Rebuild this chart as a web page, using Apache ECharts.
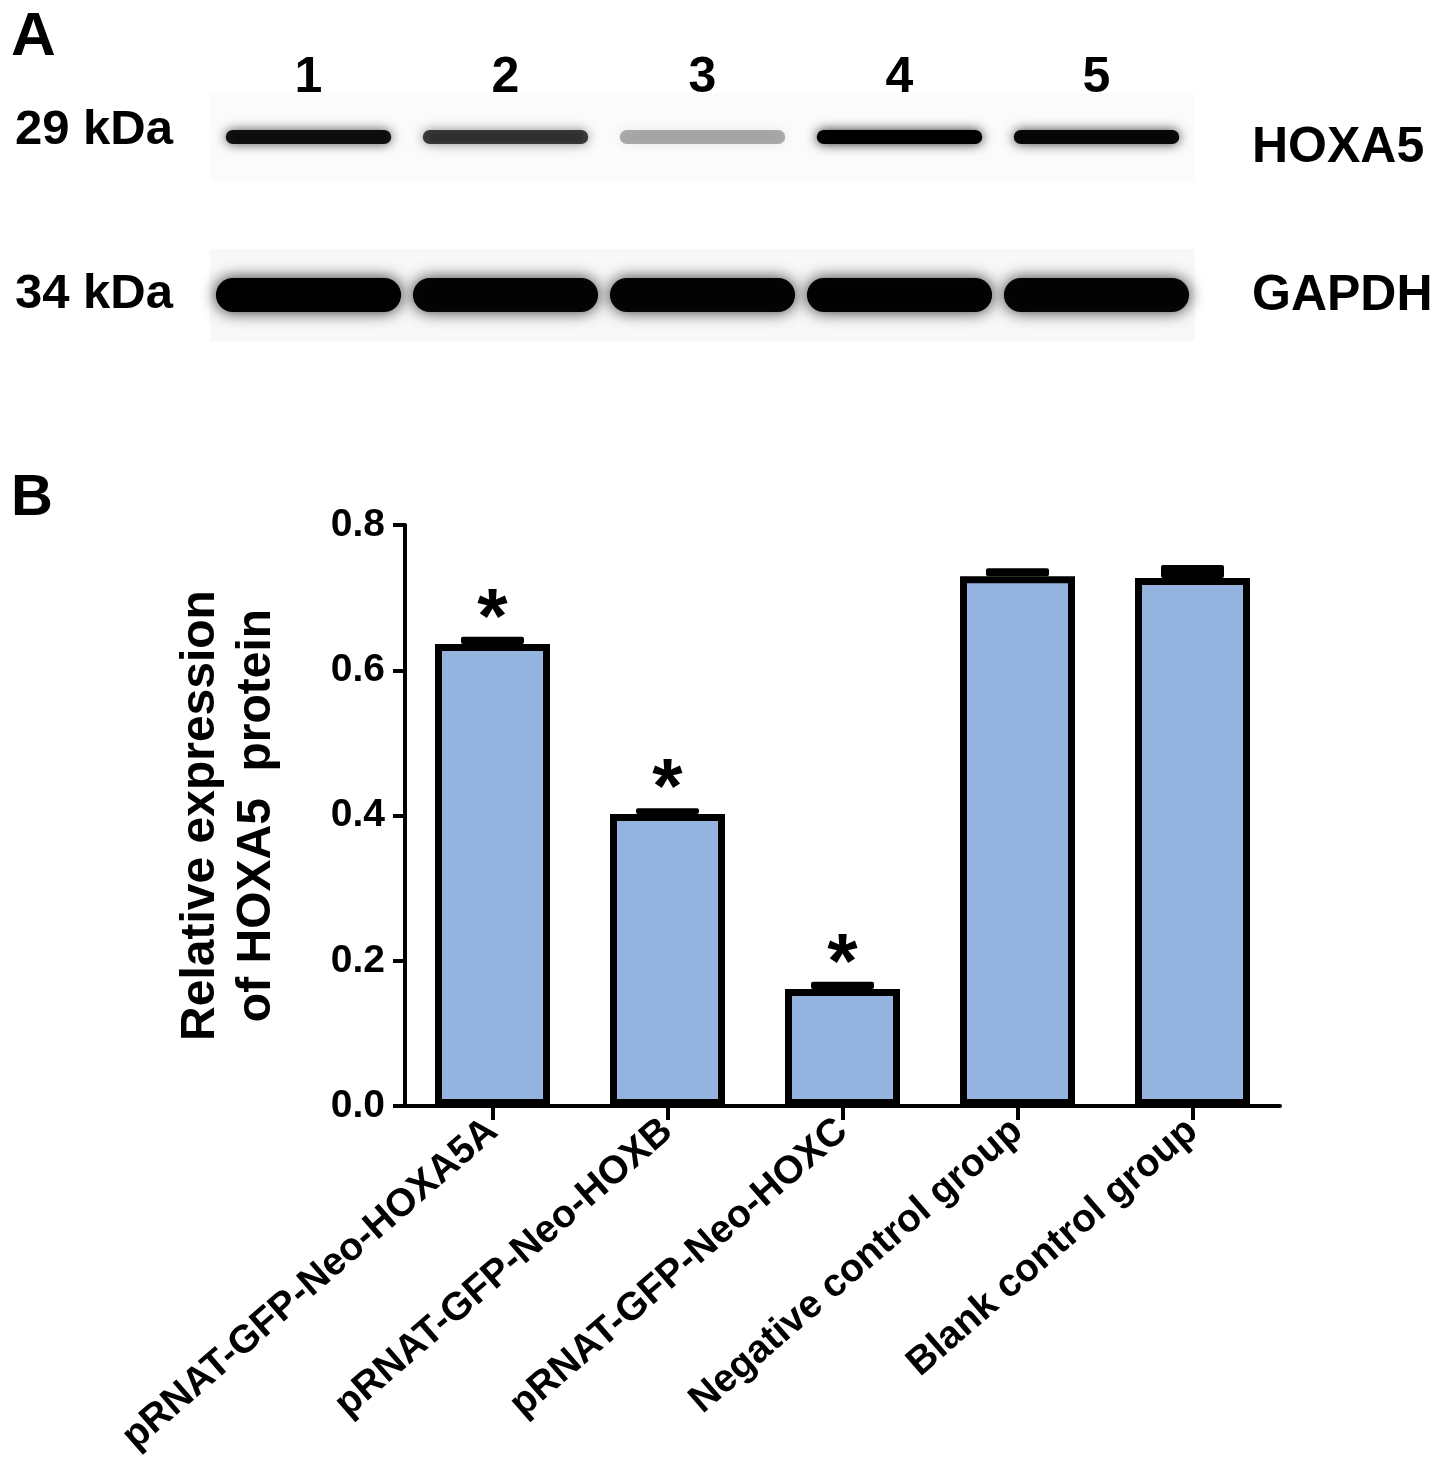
<!DOCTYPE html>
<html><head><meta charset="utf-8">
<script src="https://cdn.jsdelivr.net/npm/echarts@6/dist/echarts.min.js"></script>
<style>html,body{margin:0;padding:0;background:#fff}#c{width:1441px;height:1481px}</style>
</head><body><div id="c"></div>
<script>
// ---- Panel A (western blot) ----
const laneLabels = ['1', '2', '3', '4', '5'];
const blotRows = ['HOXA5', 'GAPDH'];
const blotMarkers = ['29 kDa', '34 kDa'];
const hoxa5Intensity = [0.9, 0.72, 0.3, 1.0, 0.95];
const gapdhIntensity = [1.0, 0.97, 0.97, 0.98, 0.97];

// ---- Panel B (bar chart) ----
const groups = ['pRNAT-GFP-Neo-HOXA5A', 'pRNAT-GFP-Neo-HOXB', 'pRNAT-GFP-Neo-HOXC', 'Negative control group', 'Blank control group'];
const meanValues = [0.636, 0.402, 0.161, 0.7295, 0.727];
const errValues = [0.010, 0.008, 0.010, 0.011, 0.018];
const sigMarks = ['*', '*', '*', '', ''];
const yAxisTitle = 'Relative expression\nof HOXA5  protein';

const FONT = '"Liberation Sans", Arial, Helvetica, sans-serif';
const chart = echarts.init(document.getElementById('c'), null, {renderer: 'canvas'});

const blotData = [];
[hoxa5Intensity, gapdhIntensity].forEach((arr, r) => arr.forEach((v, i) => blotData.push([i, r, v])));

const option = {
  backgroundColor: '#fff',
  animation: false,
  title: [
    {text: 'A', left: 6, top: 2, textStyle: {fontSize: 62, fontWeight: 'bold', color: '#000', fontFamily: FONT}},
    {text: 'B', left: 6, top: 465, textStyle: {fontSize: 58, fontWeight: 'bold', color: '#000', fontFamily: FONT}}
  ],
  grid: [
    {left: 210, right: 246, top: 58, height: 316, outerBoundsMode: 'none'},
    {left: 405, right: 161, top: 525, bottom: 375, outerBoundsMode: 'none'}
  ],
  xAxis: [
    {
      type: 'category', gridIndex: 0, data: laneLabels, position: 'top', offset: -48,
      axisLine: {show: false}, axisTick: {show: false}, splitLine: {show: false},
      axisLabel: {margin: 3, fontSize: 50, fontWeight: 'bold', color: '#000', fontFamily: FONT}
    },
    {
      type: 'category', gridIndex: 1, data: groups,
      axisLine: {show: true, lineStyle: {color: '#000', width: 4}},
      axisTick: {show: true, alignWithLabel: true, length: 14, lineStyle: {color: '#000', width: 4}},
      axisLabel: {interval: 0, rotate: 41, margin: 20, fontSize: 39, fontWeight: 'bold', color: '#000', fontFamily: FONT},
      splitLine: {show: false}
    }
  ],
  yAxis: [
    {
      type: 'category', gridIndex: 0, data: blotMarkers, inverse: true, position: 'left',
      axisLine: {show: false}, axisTick: {show: false}, splitLine: {show: false},
      axisLabel: {
        margin: 37, color: '#000',
        formatter: (v, i) => '{m' + i + '|' + v + '}',
        rich: {
          m0: {fontSize: 49, fontWeight: 'bold', color: '#000', fontFamily: FONT, padding: [0, 0, 14, 0]},
          m1: {fontSize: 49, fontWeight: 'bold', color: '#000', fontFamily: FONT, padding: [0, 0, 2, 0]}
        }
      }
    },
    {
      type: 'category', gridIndex: 0, data: blotRows, inverse: true, position: 'right',
      axisLine: {show: false}, axisTick: {show: false}, splitLine: {show: false},
      axisLabel: {
        margin: 57, color: '#000',
        formatter: (v, i) => '{h' + i + '|' + v + '}',
        rich: {
          h0: {fontSize: 50, fontWeight: 'bold', color: '#000', fontFamily: FONT, padding: [22, 0, 0, 0]},
          h1: {fontSize: 50, fontWeight: 'bold', color: '#000', fontFamily: FONT, padding: [2, 0, 0, 0]}
        }
      }
    },
    {
      type: 'value', gridIndex: 1, min: 0, max: 0.8, interval: 0.2,
      name: yAxisTitle, nameLocation: 'middle', nameRotate: 90, nameGap: 120,
      nameTextStyle: {fontSize: 48, fontWeight: 'bold', color: '#000', fontFamily: FONT, lineHeight: 56, align: 'center'},
      axisLine: {show: true, lineStyle: {color: '#000', width: 4}},
      axisTick: {show: true, length: 12, lineStyle: {color: '#000', width: 4}},
      axisLabel: {margin: 20, fontSize: 39, fontWeight: 'bold', color: '#000', fontFamily: FONT, formatter: v => v.toFixed(1)},
      splitLine: {show: false}
    }
  ],
  series: [
    {
      type: 'custom', xAxisIndex: 0, yAxisIndex: 0, data: blotData,
      renderItem: function (params, api) {
        const lane = api.value(0), row = api.value(1), inten = api.value(2);
        const c = api.coord([lane, row]);
        const bw = api.size([1, 0])[0];
        const isG = row === 1;
        const w = bw * (isG ? 0.94 : 0.84);
        const h = isG ? 34 : 14;
        const bgH = isG ? 92 : 88;
        const bgA = isG ? 0.028 : 0.016;
        return {
          type: 'group',
          children: [
            {type: 'rect', shape: {x: c[0] - bw / 2, y: c[1] - bgH / 2, width: bw, height: bgH},
              style: {fill: 'rgba(0,0,0,' + bgA + ')'}},
            {type: 'rect', shape: {x: c[0] - w / 2, y: c[1] - h / 2, width: w, height: h, r: h / 2},
              style: {fill: 'rgba(0,0,0,' + inten + ')', shadowBlur: isG ? 16 : 12, shadowColor: 'rgba(0,0,0,' + (inten * 0.85) + ')'}}
          ]
        };
      }
    },
    {
      type: 'bar', xAxisIndex: 1, yAxisIndex: 2, data: meanValues, barWidth: 115,
      itemStyle: {color: '#94b3de', borderColor: '#000', borderWidth: 7},
      label: {
        show: true, position: 'top', distance: -16,
        formatter: p => sigMarks[p.dataIndex],
        fontSize: 78, fontWeight: 'bold', color: '#000', fontFamily: FONT
      }
    },
    {
      type: 'custom', xAxisIndex: 1, yAxisIndex: 2,
      data: meanValues.map((v, i) => [i, v, v + errValues[i]]),
      renderItem: function (params, api) {
        const lo = api.coord([api.value(0), api.value(1)]);
        const hi = api.coord([api.value(0), api.value(2)]);
        const capW = api.size([1, 0])[0] * 0.36;
        return {type: 'rect', shape: {x: lo[0] - capW / 2, y: hi[1], width: capW, height: lo[1] - hi[1], r: 2},
          style: {fill: '#000'}};
      }
    }
  ]
};
chart.setOption(option);
</script>
</body></html>
